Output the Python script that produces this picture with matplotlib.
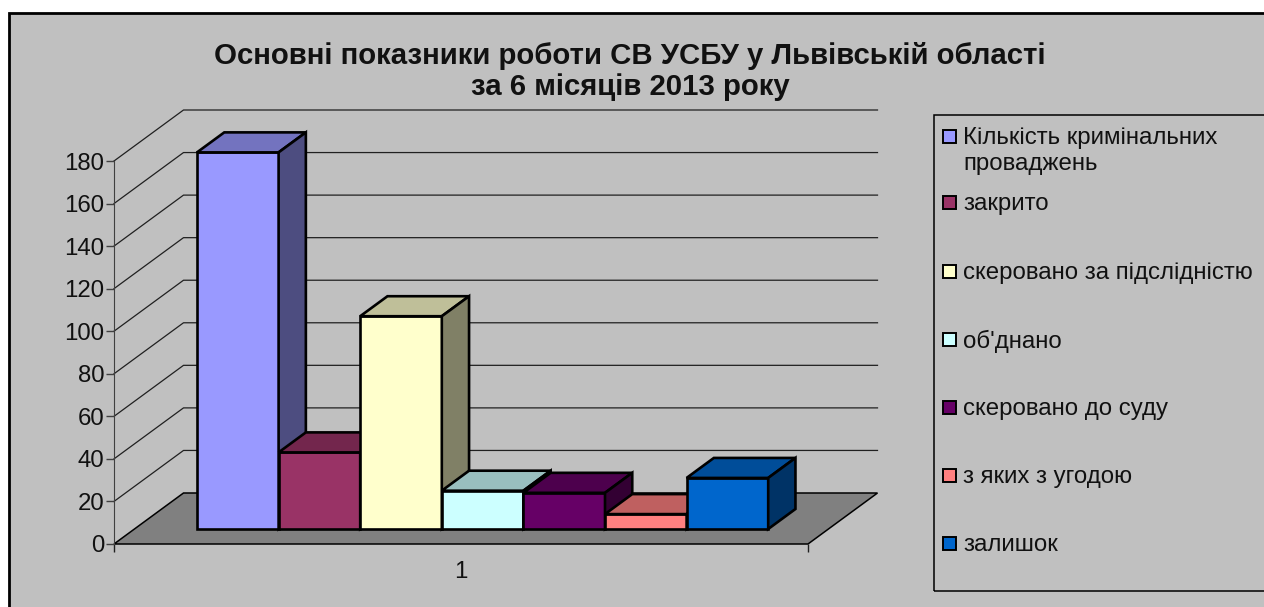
import matplotlib
matplotlib.use('Agg')
import matplotlib.pyplot as plt
from matplotlib.patches import Polygon, Rectangle

categories = ['Кількість кримінальних\nпроваджень', 'закрито', 'скеровано за підслідністю',
              "об'днано", 'скеровано до суду', 'з яких з угодою', 'залишок']
values = [177, 36, 100, 18, 17, 7, 24]
front_colors = ['#9999ff', '#993366', '#ffffcc', '#ccffff', '#660066', '#ff8080', '#0066cc']
top_colors = ['#7373bf', '#73264d', '#bfbf99', '#99bfbf', '#4d004d', '#bf6060', '#004d99']
side_colors = ['#4d4d80', '#4d1a33', '#808066', '#668080', '#330033', '#804040', '#003366']
y_ticks = list(range(0, 181, 20))
title = 'Основні показники роботи СВ УСБУ у Львівській області\nза 6 місяців 2013 року'

W, H = 1264, 607
BAR_PX = 81.6
AX_LEFT, AX_RIGHT, AX_BOTTOM, AX_TOP = 114, 808, 544, 161
DEPTH_X = 69.5 / BAR_PX
DEPTH_Y = 51 / ((AX_BOTTOM - AX_TOP) / 180)
BAR_D0, BAR_D1 = 15 / 51, 35 / 51
BAR_START = (197 - (AX_LEFT + BAR_D0 * 69.5)) / BAR_PX
X_MAX = (AX_RIGHT - AX_LEFT) / BAR_PX

plt.rcParams['font.family'] = ['Liberation Sans', 'DejaVu Sans']


def project(x, v, d):
    return x + d * DEPTH_X, v + d * DEPTH_Y


def face(ax, corners, color, lw=1.9, edge='black'):
    ax.add_patch(Polygon([project(*c) for c in corners], closed=True, facecolor=color,
                         edgecolor=edge, linewidth=lw, joinstyle='miter', clip_on=False))


def draw_bar(ax, x, value, front, top, side):
    x1 = x + 1
    face(ax, [(x, 0, BAR_D0), (x1, 0, BAR_D0), (x1, value, BAR_D0), (x, value, BAR_D0)], front)
    face(ax, [(x, value, BAR_D0), (x1, value, BAR_D0), (x1, value, BAR_D1), (x, value, BAR_D1)], top)
    face(ax, [(x1, 0, BAR_D0), (x1, 0, BAR_D1), (x1, value, BAR_D1), (x1, value, BAR_D0)], side)


fig = plt.figure(figsize=(W / 100, H / 100), dpi=100, facecolor='white')
fig.add_artist(Rectangle((9 / W, -0.1), 2, 1.1 - 13 / H, transform=fig.transFigure,
                         facecolor='#c0c0c0', edgecolor='black', linewidth=2, zorder=-1))

ax = fig.add_axes([AX_LEFT / W, 1 - AX_BOTTOM / H, (AX_RIGHT - AX_LEFT) / W, (AX_BOTTOM - AX_TOP) / H])
ax.patch.set_visible(False)
ax.set_xlim(0, X_MAX)
ax.set_ylim(0, 180)
for name in ('top', 'right', 'bottom'):
    ax.spines[name].set_visible(False)
ax.spines['left'].set_color('#404040')

# floor and walls
face(ax, [(0, 0, 0), (X_MAX, 0, 0), (X_MAX, 0, 1), (0, 0, 1)], '#808080', lw=1.1)
for v in y_ticks[1:]:
    xs, ys = zip(project(0, v, 0), project(0, v, 1), project(X_MAX, v, 1))
    ax.plot(xs, ys, color='#202020', lw=0.9, clip_on=False, zorder=0.5)

for i, value in enumerate(values):
    draw_bar(ax, BAR_START + i, value, front_colors[i], top_colors[i], side_colors[i])

ax.set_yticks(y_ticks)
ax.set_xticks([0, X_MAX], ['', ''])
ax.set_xticks([(461 - AX_LEFT) / BAR_PX], ['1'], minor=True)
ax.tick_params(axis='y', labelsize=17.3, length=6, width=1, color='#404040', pad=1, labelcolor='#111111')
ax.tick_params(axis='x', which='major', length=6, width=1, color='#202020')
ax.tick_params(axis='x', which='minor', length=0, labelsize=17.3, pad=12.5, labelcolor='#111111')

fig.text(630 / W, 1 - 71.5 / H, title, ha='center', va='center', fontsize=21.2, fontweight='bold',
         linespacing=1.12, color='#111111')

# legend
fig.add_artist(Rectangle((933.5 / W, 1 - 590.5 / H), 1, 476 / H, transform=fig.transFigure,
                         facecolor='none', edgecolor='black', linewidth=1.1))
legend_y = [136, 202, 271, 339, 407, 475, 543]
for label, color, y in zip(categories, front_colors, legend_y):
    fig.add_artist(Rectangle((942.5 / W, 1 - (y + 7) / H), 13 / W, 13 / H, transform=fig.transFigure,
                             facecolor=color, edgecolor='black', linewidth=1.4))
    fig.text(963 / W, 1 - (y - 9) / H, label, ha='left', va='top', fontsize=17.3,
             linespacing=1.25, color='#111111')

fig.savefig('out.png', dpi=100)
